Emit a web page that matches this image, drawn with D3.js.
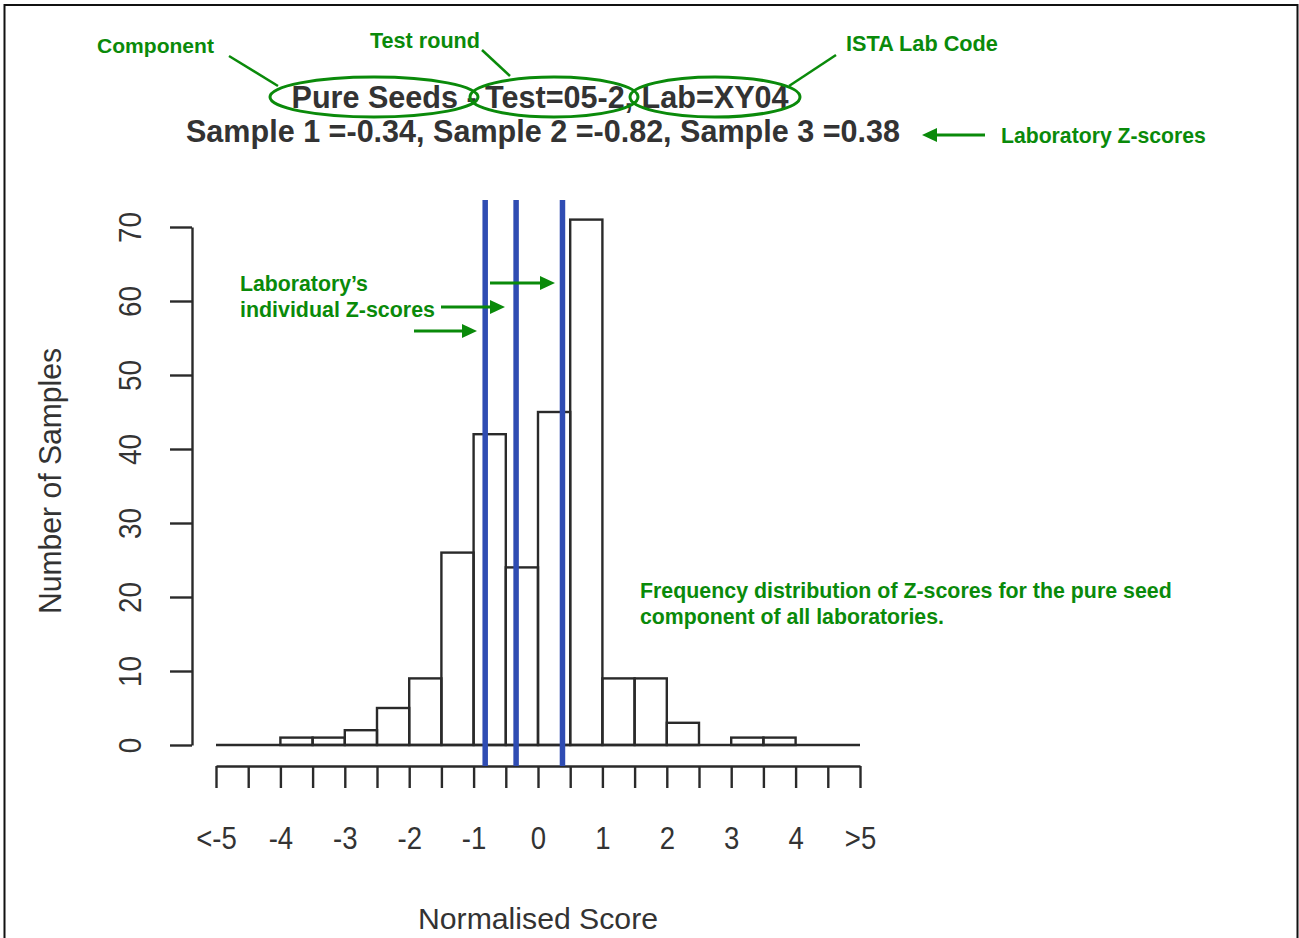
<!DOCTYPE html>
<html>
<head>
<meta charset="utf-8">
<script src="https://cdn.jsdelivr.net/npm/d3@7"></script>
<style>
  html, body { margin: 0; padding: 0; background: #fff; }
  svg { display: block; }
  text { font-family: "Liberation Sans", Arial, Helvetica, sans-serif; }
</style>
</head>
<body>
<svg id="chart" width="1299" height="938"></svg>
<script>
// ---------- data ----------
const binStarts = [-5, -4.5, -4, -3.5, -3, -2.5, -2, -1.5, -1, -0.5, 0, 0.5, 1, 1.5, 2, 2.5, 3, 3.5, 4, 4.5];
const binWidth = 0.5;
const counts    = [0, 0, 1, 1, 2, 5, 9, 26, 42, 24, 45, 71, 9, 9, 3, 0, 1, 1, 0, 0];
const sampleNames  = ["Sample 1", "Sample 2", "Sample 3"];
const sampleScores = [-0.34, -0.82, 0.38];
const xTickValues = [-5, -4.5, -4, -3.5, -3, -2.5, -2, -1.5, -1, -0.5, 0, 0.5, 1, 1.5, 2, 2.5, 3, 3.5, 4, 4.5, 5];
const xLabelValues = [-5, -4, -3, -2, -1, 0, 1, 2, 3, 4, 5];
const xLabels = ["<-5", "-4", "-3", "-2", "-1", "0", "1", "2", "3", "4", ">5"];
const yTickValues = [0, 10, 20, 30, 40, 50, 60, 70];
const component = "Pure Seeds";
const testRound = "05-2";
const labCode = "XY04";

// ---------- setup ----------
const svg = d3.select("#chart");
const GREEN = "#0a8a0a";
const BLUE = "#2f4cb3";
const INK = "#2a2a2a";
const TXT = "#333333";

const x = d3.scaleLinear().domain([-5, 5]).range([216, 860]);
const y = d3.scaleLinear().domain([0, 70]).range([745, 227]);

function fit(sel, w) {
  const n = sel.node().getComputedTextLength();
  const fs = parseFloat(sel.attr("font-size"));
  sel.attr("font-size", (fs * w / n).toFixed(2));
  return sel;
}
// keep font-size (height), squeeze to target width
function squeeze(sel, w) {
  sel.attr("textLength", w).attr("lengthAdjust", "spacingAndGlyphs");
  return sel;
}

// frame
svg.append("path")
  .attr("d", "M4.5,938 L4.5,5 L1297.5,5 L1297.5,938")
  .attr("fill", "none").attr("stroke", "#111").attr("stroke-width", 2);

// ---------- histogram ----------
svg.append("line")
  .attr("x1", x(-5)).attr("x2", x(5)).attr("y1", y(0)).attr("y2", y(0))
  .attr("stroke", INK).attr("stroke-width", 2.4);
svg.append("g").selectAll("rect")
  .data(binStarts.map((s, i) => ({ s, c: counts[i] })).filter(d => d.c > 0))
  .join("rect")
  .attr("x", d => x(d.s))
  .attr("width", d => x(d.s + binWidth) - x(d.s))
  .attr("y", d => y(d.c))
  .attr("height", d => y(0) - y(d.c))
  .attr("fill", "none")
  .attr("stroke", INK)
  .attr("stroke-width", 2.4);

// ---------- axes ----------
const xAxis = svg.append("g")
  .attr("transform", `translate(0,766)`)
  .call(d3.axisBottom(x).tickValues(xTickValues).tickSize(22).tickSizeOuter(0)
    .tickFormat(v => { const k = xLabelValues.indexOf(v); return k >= 0 ? xLabels[k] : ""; }));
xAxis.select(".domain").attr("stroke", INK).attr("stroke-width", 2.4);
xAxis.selectAll(".tick line").attr("stroke", INK).attr("stroke-width", 2.4);
xAxis.selectAll(".tick text")
  .attr("y", 71).attr("dy", "0.36em")
  .attr("font-size", 32).attr("fill", TXT)
  .attr("font-family", "'Liberation Sans', Arial, sans-serif")
  .each(function () {
    const n = this.getComputedTextLength();
    if (n > 0) d3.select(this).attr("textLength", n * 0.86).attr("lengthAdjust", "spacingAndGlyphs");
  });

const yAxis = svg.append("g")
  .attr("transform", `translate(192,0)`)
  .call(d3.axisLeft(y).tickValues(yTickValues).tickSize(22).tickSizeOuter(0));
yAxis.select(".domain").attr("stroke", INK).attr("stroke-width", 2.4);
yAxis.selectAll(".tick line").attr("stroke", INK).attr("stroke-width", 2.4);
yAxis.selectAll(".tick text")
  .attr("x", null).attr("dy", null)
  .attr("transform", "translate(-62,0) rotate(-90)")
  .attr("text-anchor", "middle").attr("dy", "0.36em")
  .attr("font-size", 31).attr("fill", TXT)
  .attr("font-family", "'Liberation Sans', Arial, sans-serif")
  .each(function () {
    const n = this.getComputedTextLength();
    d3.select(this).attr("textLength", n * 0.9).attr("lengthAdjust", "spacingAndGlyphs");
  });

// axis titles
squeeze(svg.append("text")
  .attr("x", 538).attr("y", 929)
  .attr("text-anchor", "middle").attr("font-size", 30).attr("fill", TXT)
  .text("Normalised Score"), 240);

squeeze(svg.append("text")
  .attr("transform", "translate(50,481) rotate(-90)")
  .attr("dy", "0.36em")
  .attr("text-anchor", "middle").attr("font-size", 31).attr("fill", TXT)
  .text("Number of Samples"), 266);

// ---------- lab Z-score lines ----------
svg.append("g").selectAll("line")
  .data(sampleScores)
  .join("line")
  .attr("x1", d => x(d)).attr("x2", d => x(d))
  .attr("y1", 200).attr("y2", 766)
  .attr("stroke", BLUE).attr("stroke-width", 5.5);

// ---------- titles ----------
squeeze(svg.append("text")
  .attr("x", 540).attr("y", 108)
  .attr("text-anchor", "middle").attr("font-size", 32).attr("font-weight", "bold").attr("fill", TXT)
  .text(`${component} - Test=${testRound}, Lab=${labCode}`), 497);

squeeze(svg.append("text")
  .attr("x", 543).attr("y", 142)
  .attr("text-anchor", "middle").attr("font-size", 32).attr("font-weight", "bold").attr("fill", TXT)
  .text(sampleNames.map((n, i) => `${n} =${sampleScores[i]}`).join(", ")), 714);

// ---------- green annotations ----------
const ann = svg.append("g");
function gtext(str, x0, yb, w) {
  const t = ann.append("text").attr("x", x0).attr("y", yb)
    .attr("font-size", 20).attr("font-weight", "bold").attr("fill", GREEN).text(str);
  if (w) fit(t, w);
  return t;
}
gtext("Component", 97, 53, 117);
gtext("Test round", 370, 48, 110);
gtext("ISTA Lab Code", 846, 51, 152);
gtext("Laboratory Z-scores", 1001, 143, 205);
gtext("Laboratory\u2019s", 240, 291, 128);
gtext("individual Z-scores", 240, 317, 195);
gtext("Frequency distribution of Z-scores for the pure seed", 640, 598, 532);
gtext("component of all laboratories.", 640, 624, 304);

// ellipses
[[374, 97, 104, 20], [554, 97, 84, 20], [715, 97, 85, 20]].forEach(e => {
  ann.append("ellipse").attr("cx", e[0]).attr("cy", e[1]).attr("rx", e[2]).attr("ry", e[3])
    .attr("fill", "none").attr("stroke", GREEN).attr("stroke-width", 3);
});

// pointer lines
[[229, 56, 278, 86], [482, 50, 510, 76], [836, 55, 789, 86]].forEach(l => {
  ann.append("line").attr("x1", l[0]).attr("y1", l[1]).attr("x2", l[2]).attr("y2", l[3])
    .attr("stroke", GREEN).attr("stroke-width", 2.5);
});

// arrows (tail x, tip x, y)
function arrow(x0, x1, yy) {
  const dir = Math.sign(x1 - x0);
  const hl = 15, hw = 7;
  ann.append("line").attr("x1", x0).attr("y1", yy).attr("x2", x1 - dir * hl + dir).attr("y2", yy)
    .attr("stroke", GREEN).attr("stroke-width", 3);
  ann.append("path")
    .attr("d", `M${x1},${yy} L${x1 - dir * hl},${yy - hw} L${x1 - dir * hl},${yy + hw} Z`)
    .attr("fill", GREEN);
}
arrow(985, 922, 135);
arrow(490, 555, 283);
arrow(441, 505, 307);
arrow(414, 477, 331);
</script>
</body>
</html>
